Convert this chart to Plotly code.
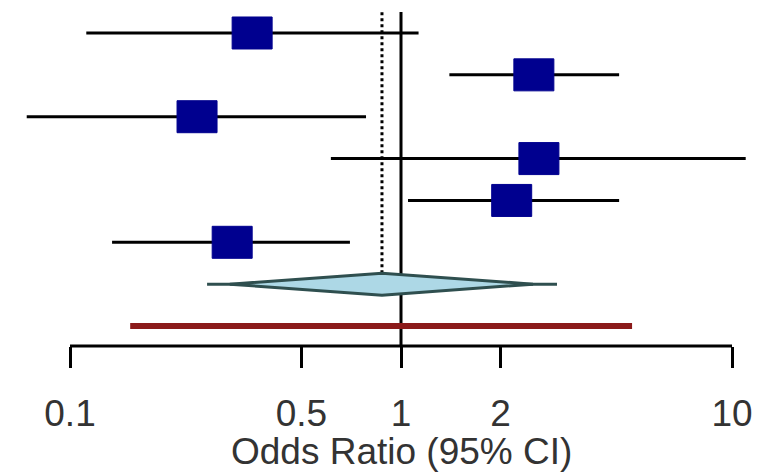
import math
import plotly.graph_objects as go

# ---- data ----
study_rows = [8, 7, 6, 5, 4, 3]
or_est = [0.355, 2.52, 0.242, 2.61, 2.16, 0.309]
ci_lo = [0.112, 1.40, 0.074, 0.614, 1.05, 0.134]
ci_hi = [1.13, 4.56, 0.784, 11.0, 4.56, 0.701]

summary_row = 2
summary_est = 0.876
summary_lo = 0.304
summary_hi = 2.505
summary_outer_lo = 0.2595
summary_outer_hi = 2.96

pred_row = 1
pred_lo = 0.152
pred_hi = 4.99

tick_vals = [0.1, 0.5, 1, 2, 10]
tick_text = ["0.1", "0.5", "1", "2", "10"]
x_title = "Odds Ratio (95% CI)"

# ---- styles ----
W, H = 777, 472
px_per_decade = 331.0
x_range = [-401 / px_per_decade, (W - 401) / px_per_decade]
y_range = [0.523, 8.788]
px_per_row = 346 / (y_range[1] - y_range[0])
sq_hw = 20 / px_per_decade      # half width of square in decades
sq_hh = 16 / px_per_row         # half height of square in row units
dia_hh = 11 / px_per_row
top_y = 8.5
font_family = "Liberation Sans, Arial"
text_color = "#333333"
square_color = "#00008F"

fig = go.Figure()

# vertical reference line at OR = 1
fig.add_trace(go.Scatter(x=[1, 1], y=[y_range[0], top_y], mode="lines",
                         line=dict(color="black", width=3), hoverinfo="skip", showlegend=False))
# dotted line at summary estimate
fig.add_trace(go.Scatter(x=[summary_est, summary_est], y=[summary_row + dia_hh, top_y], mode="lines",
                         line=dict(color="black", width=3, dash="dot"), hoverinfo="skip", showlegend=False))

# study CIs
for y, lo, hi in zip(study_rows, ci_lo, ci_hi):
    fig.add_trace(go.Scatter(x=[lo, hi], y=[y, y], mode="lines",
                             line=dict(color="black", width=3), hoverinfo="skip", showlegend=False))

# study squares
for y, e in zip(study_rows, or_est):
    xl = e * 10 ** (-sq_hw)
    xr = e * 10 ** (sq_hw)
    fig.add_trace(go.Scatter(x=[xl, xr, xr, xl, xl], y=[y - sq_hh, y - sq_hh, y + sq_hh, y + sq_hh, y - sq_hh],
                             mode="lines", fill="toself", fillcolor=square_color,
                             line=dict(color=square_color, width=1), hoverinfo="skip", showlegend=False))

# summary whisker + diamond
fig.add_trace(go.Scatter(x=[summary_outer_lo, summary_outer_hi], y=[summary_row, summary_row], mode="lines",
                         line=dict(color="#2f4f4f", width=3), hoverinfo="skip", showlegend=False))
fig.add_trace(go.Scatter(x=[summary_lo, summary_est, summary_hi, summary_est, summary_lo],
                         y=[summary_row, summary_row + dia_hh, summary_row, summary_row - dia_hh, summary_row],
                         mode="lines", fill="toself", fillcolor="#add8e6",
                         line=dict(color="#2f4f4f", width=3), hoverinfo="skip", showlegend=False))

# prediction interval
fig.add_trace(go.Scatter(x=[pred_lo, pred_hi], y=[pred_row, pred_row], mode="lines",
                         line=dict(color="#8B1A1A", width=6), hoverinfo="skip", showlegend=False))

# axis line from first to last tick
fig.add_shape(type="line", xref="x", yref="paper", x0=tick_vals[0], x1=tick_vals[-1], y0=0, y1=0,
              line=dict(color="black", width=3))

fig.add_annotation(text=x_title, xref="x", yref="paper", x=0.0, y=-(452 - 346) / 346,
                   showarrow=False, yanchor="middle",
                   font=dict(family=font_family, size=37, color=text_color))

fig.update_layout(
    width=W, height=H,
    margin=dict(l=0, r=0, t=0, b=H - 346, pad=0),
    paper_bgcolor="white", plot_bgcolor="white",
    xaxis=dict(type="log", range=x_range, showgrid=False, zeroline=False, showline=False,
               automargin=False,
               tickvals=tick_vals, ticktext=tick_text, ticks="outside", ticklen=21, tickwidth=3,
               ticklabelstandoff=14,
               tickcolor="black", tickfont=dict(family=font_family, size=37, color=text_color)),
    yaxis=dict(visible=False, range=y_range, automargin=False),
)

fig.write_html("out.html", config={"displayModeBar": False},
               post_script="document.body.style.margin='0';document.body.style.overflow='hidden';")
